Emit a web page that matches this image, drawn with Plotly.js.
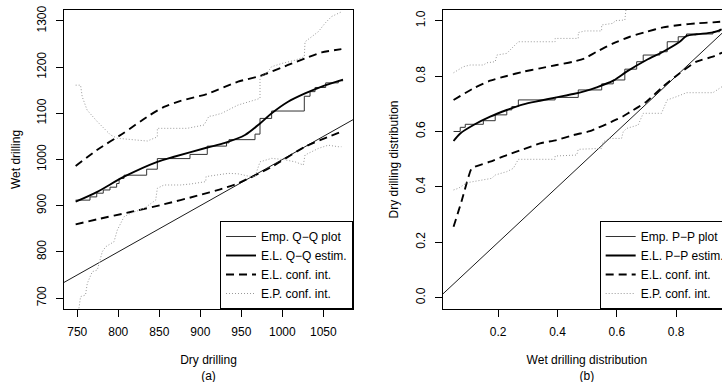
<!DOCTYPE html>
<html>
<head>
<meta charset="utf-8">
<script src="https://cdn.plot.ly/plotly-3.0.1.min.js"></script>
<style>
html,body{margin:0;padding:0;overflow:hidden;background:#fff;}
#chart{width:740px;height:392px;}
</style>
</head>
<body>
<div id="chart"></div>
<script>
// ---------- Panel (a): Q-Q plot, Dry drilling vs Wet drilling ----------
const qqXTicks = [750, 800, 850, 900, 950, 1000, 1050];
const qqYTicks = [700, 800, 900, 1000, 1100, 1200, 1300];
const qqXRange = [733.8, 1086.2];
const qqYRange = [676.2, 1323.8];

// empirical Q-Q step function
const qqStepX = [748, 765.5, 773.7, 781.7, 789.9, 798, 801, 807, 834.6, 847.6, 887.4, 908.5, 932, 935, 966.7, 972.8, 987, 1026.8, 1033.8, 1039.9, 1052.9, 1068.3, 1074];
const qqStepY = [912, 919, 927, 934, 940, 948, 959, 966, 979, 1002, 1011, 1029, 1036, 1043, 1055, 1089, 1105, 1137, 1147, 1156, 1166, 1170.5, 1170.5];

// E.L. Q-Q estimate
const qqEstX = [748, 774.4, 807, 847.6, 868, 908.5, 930, 954.5, 972.8, 987, 1007, 1027.7, 1048, 1074];
const qqEstY = [908.6, 930, 962.7, 995, 1006, 1026, 1036, 1053, 1078, 1100, 1125, 1143, 1158, 1173];

// E.L. confidence interval
const qqElUpX = [748, 774, 807, 835.4, 855.7, 876, 908.5, 946, 972.8, 1007, 1027.7, 1048, 1072];
const qqElUpY = [986, 1020.6, 1058, 1092.7, 1114, 1127, 1142, 1168.5, 1181, 1204.7, 1219, 1232, 1239];
const qqElLoX = [748, 774, 815, 855.7, 896.3, 927, 946, 987, 1027.7, 1072];
const qqElLoY = [859.6, 870.4, 886.3, 903, 921.6, 937, 948.4, 984, 1027.7, 1060];

// E.P. confidence interval
const qqEpUpX = [748, 754, 756, 762, 774.4, 782.6, 790.7, 798.8, 821, 835.4, 847.6, 847.6, 884, 904.5, 910.6, 913.9, 926, 934, 946, 966.7, 972.8, 972.8, 981, 987, 999.3, 1015.5, 1026.8, 1027.7, 1035.8, 1044, 1052, 1060, 1072.4];
const qqEpUpY = [1161, 1161, 1136, 1107, 1082, 1067.5, 1053, 1046, 1042, 1040, 1049, 1067.5, 1067.5, 1074.7, 1094, 1094, 1100, 1107, 1118, 1129, 1132.5, 1179, 1186.7, 1201, 1208, 1215, 1222.5, 1255, 1266, 1277, 1295, 1309.6, 1320];
const qqEpLoX = [752, 754, 760, 762.2, 768.3, 774.4, 780.5, 784.6, 794.8, 798.8, 807, 815, 831.3, 839.5, 845.6, 847.6, 855.7, 876, 888.3, 906.6, 907, 934, 946, 958.5, 966.7, 972.8, 987, 1001, 1015.5, 1025.6, 1027.7, 1044, 1056, 1068, 1072];
const qqEpLoY = [677.7, 703, 706.5, 731.8, 757, 760.7, 800.3, 811, 822, 847.3, 876, 883.5, 894, 905, 912, 937.6, 944.8, 944.8, 947, 952, 963, 970, 969, 964, 962.8, 995, 1002.5, 1000, 995, 988, 1009.7, 1024, 1031, 1027.7, 1027.7];

// ---------- Panel (b): P-P plot ----------
const ppXTicks = [0.2, 0.4, 0.6, 0.8];
const ppXTickText = ["0.2", "0.4", "0.6", "0.8"];
const ppYTicks = [0, 0.2, 0.4, 0.6, 0.8, 1.0];
const ppYTickText = ["0.0", "0.2", "0.4", "0.6", "0.8", "1.0"];
const ppXRange = [0.013, 0.985];
const ppYRange = [-0.0408, 1.0386];

const ppStepX = [0.0495, 0.072, 0.089, 0.150, 0.190, 0.229, 0.246, 0.268, 0.392, 0.470, 0.549, 0.588, 0.627, 0.667, 0.689, 0.745, 0.770, 0.807, 0.835, 0.924, 0.947, 0.955];
const ppStepY = [0.600, 0.615, 0.626, 0.639, 0.660, 0.678, 0.690, 0.714, 0.723, 0.750, 0.772, 0.786, 0.825, 0.852, 0.876, 0.888, 0.924, 0.942, 0.952, 0.960, 0.969, 0.969];

const ppEstX = [0.0495, 0.072, 0.1168, 0.173, 0.229, 0.285, 0.341, 0.397, 0.453, 0.4926, 0.532, 0.588, 0.633, 0.700, 0.756, 0.812, 0.835, 0.8685, 0.924, 0.9526];
const ppEstY = [0.5657, 0.593, 0.6235, 0.6535, 0.6776, 0.698, 0.711, 0.7234, 0.7354, 0.746, 0.7595, 0.7834, 0.816, 0.858, 0.888, 0.924, 0.945, 0.951, 0.958, 0.968];

const ppElUpX = [0.0495, 0.1168, 0.173, 0.229, 0.285, 0.341, 0.397, 0.453, 0.4926, 0.532, 0.588, 0.644, 0.700, 0.756, 0.812, 0.8685, 0.924, 0.955];
const ppElUpY = [0.7137, 0.756, 0.7834, 0.8004, 0.816, 0.828, 0.840, 0.852, 0.8642, 0.888, 0.918, 0.942, 0.960, 0.976, 0.9845, 0.9905, 0.994, 0.9965];
const ppElLoX = [0.0495, 0.0777, 0.100, 0.111, 0.173, 0.229, 0.285, 0.341, 0.397, 0.453, 0.509, 0.532, 0.5656, 0.588, 0.6215, 0.644, 0.672, 0.700, 0.756, 0.812, 0.8685, 0.924, 0.955];
const ppElLoY = [0.256, 0.3527, 0.4368, 0.467, 0.491, 0.515, 0.5357, 0.557, 0.569, 0.587, 0.601, 0.612, 0.626, 0.638, 0.655, 0.670, 0.688, 0.7076, 0.762, 0.810, 0.852, 0.870, 0.8845];

const ppEpUpX = [0.0495, 0.066, 0.083, 0.1057, 0.150, 0.162, 0.190, 0.1955, 0.229, 0.251, 0.268, 0.392, 0.392, 0.470, 0.470, 0.4926, 0.5488, 0.5488, 0.588, 0.594, 0.627, 0.633];
const ppEpUpY = [0.812, 0.822, 0.834, 0.840, 0.840, 0.848, 0.852, 0.876, 0.882, 0.906, 0.924, 0.924, 0.936, 0.936, 0.957, 0.963, 0.963, 0.9845, 0.9905, 1.0, 1.0025, 1.06];
const ppEpLoX = [0.0495, 0.066, 0.0945, 0.150, 0.1786, 0.190, 0.229, 0.251, 0.268, 0.392, 0.392, 0.4647, 0.470, 0.5488, 0.554, 0.577, 0.616, 0.6215, 0.633, 0.672, 0.689, 0.7507, 0.7696, 0.801, 0.835, 0.924, 0.947, 0.955];
const ppEpLoY = [0.389, 0.395, 0.415, 0.425, 0.431, 0.443, 0.455, 0.467, 0.4996, 0.4996, 0.5115, 0.515, 0.5357, 0.539, 0.563, 0.575, 0.575, 0.599, 0.611, 0.6235, 0.6657, 0.6657, 0.7137, 0.7256, 0.740, 0.740, 0.756, 0.762];

// ---------- styles ----------
const thin = {color: '#000', width: 0.9};
const stepLine = {color: '#333', width: 1, shape: 'hv'};
const thick = {color: '#000', width: 1.9, shape: 'spline', smoothing: 0.8};
const dashed = {color: '#000', width: 1.9, dash: '8px,5px', shape: 'spline', smoothing: 0.6};
const dotted = {color: '#999', width: 1, dash: '1px,2px'};

function line(x, y, ln, axes, legend, name, show, group) {
  return {type: 'scatter', mode: 'lines', x: x, y: y, line: ln,
          xaxis: axes[0], yaxis: axes[1], legend: legend, name: name,
          showlegend: show, legendgroup: group, hoverinfo: 'skip'};
}

const A = ['x', 'y'], B = ['x2', 'y2'];
const traces = [
  line(qqXRange, qqXRange, thin, A, 'legend', 'ref', false, 'a0'),
  line(qqStepX, qqStepY, stepLine, A, 'legend', 'Emp. Q\u2212Q plot', true, 'a1'),
  line(qqEstX, qqEstY, thick, A, 'legend', 'E.L. Q\u2212Q estim.', true, 'a2'),
  line(qqElUpX, qqElUpY, dashed, A, 'legend', 'E.L. conf. int.', true, 'a3'),
  line(qqElLoX, qqElLoY, dashed, A, 'legend', 'E.L. conf. int.', false, 'a3'),
  line(qqEpUpX, qqEpUpY, dotted, A, 'legend', 'E.P. conf. int.', true, 'a4'),
  line(qqEpLoX, qqEpLoY, dotted, A, 'legend', 'E.P. conf. int.', false, 'a4'),

  line(ppXRange, ppXRange, thin, B, 'legend2', 'ref', false, 'b0'),
  line(ppStepX, ppStepY, stepLine, B, 'legend2', 'Emp. P\u2212P plot', true, 'b1'),
  line(ppEstX, ppEstY, thick, B, 'legend2', 'E.L. P\u2212P estim.', true, 'b2'),
  line(ppElUpX, ppElUpY, dashed, B, 'legend2', 'E.L. conf. int.', true, 'b3'),
  line(ppElLoX, ppElLoY, dashed, B, 'legend2', 'E.L. conf. int.', false, 'b3'),
  line(ppEpUpX, ppEpUpY, dotted, B, 'legend2', 'E.P. conf. int.', true, 'b4'),
  line(ppEpLoX, ppEpLoY, dotted, B, 'legend2', 'E.P. conf. int.', false, 'b4')
];

const axisStyle = {
  showline: true, mirror: true, linecolor: '#000', linewidth: 1,
  ticks: 'outside', ticklen: 7, tickwidth: 1, tickcolor: '#000',
  showgrid: false, zeroline: false, automargin: false,
  ticklabelstandoff: 5, tickfont: {size: 12, color: '#000'}
};
const legendStyle = {
  y: 0, yanchor: 'bottom', bgcolor: '#fff', bordercolor: '#000', borderwidth: 1,
  font: {size: 12, color: '#000'}, traceorder: 'normal'
};

const layout = {
  width: 740, height: 392,
  margin: {l: 64, r: 9, t: 10, b: 83},
  paper_bgcolor: '#fff', plot_bgcolor: '#fff',
  font: {family: 'Liberation Sans, Arial, Helvetica, sans-serif', size: 12, color: '#000'},
  showlegend: true,
  xaxis: Object.assign({}, axisStyle, {domain: [0, 0.4333], range: qqXRange, anchor: 'y',
    tickvals: qqXTicks, title: {text: 'Dry drilling<br>(a)', standoff: 17, font: {size: 12}}}),
  yaxis: Object.assign({}, axisStyle, {domain: [0, 1], range: qqYRange, anchor: 'x',
    tickvals: qqYTicks, tickangle: -90, title: {text: 'Wet drilling', standoff: 12, font: {size: 12}}}),
  xaxis2: Object.assign({}, axisStyle, {domain: [0.5678, 1], range: ppXRange, anchor: 'y2',
    tickvals: ppXTicks, ticktext: ppXTickText,
    title: {text: 'Wet drilling distribution<br>(b)', standoff: 17, font: {size: 12}}}),
  yaxis2: Object.assign({}, axisStyle, {domain: [0, 1], range: ppYRange, anchor: 'x2',
    tickvals: ppYTicks, ticktext: ppYTickText, tickangle: -90,
    title: {text: 'Dry drilling distribution', standoff: 12, font: {size: 12}}}),
  legend: Object.assign({}, legendStyle, {x: 0.4333, xanchor: 'right'}),
  legend2: Object.assign({}, legendStyle, {x: 0.8031, xanchor: 'left'})
};

Plotly.newPlot('chart', traces, layout, {staticPlot: true, displayModeBar: false});
</script>
</body>
</html>
